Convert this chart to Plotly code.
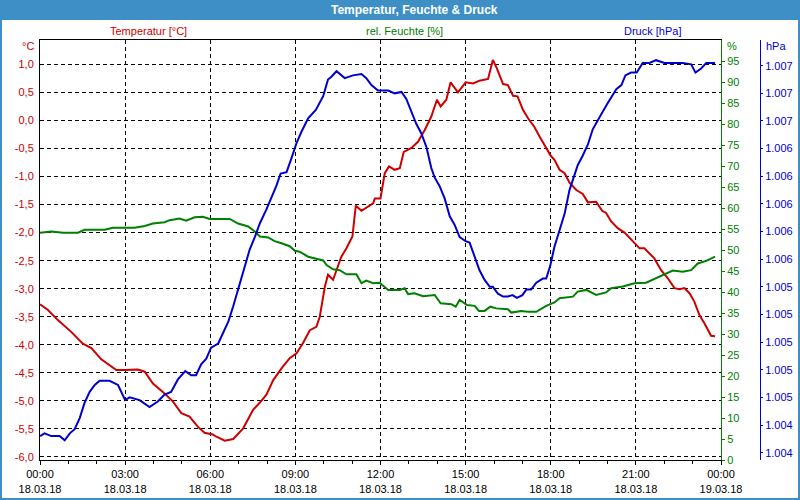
import plotly.graph_objects as go

# ---------------- data (hours since 18.03.18 00:00) ----------------
temp_h = [0.00, 0.28, 0.63, 1.10, 1.51, 1.81, 2.16, 2.45, 2.69, 2.98, 3.45, 3.69, 3.98, 4.33, 4.68,
          4.98, 5.27, 5.56, 5.80, 6.09, 6.22, 6.51, 6.81, 7.16, 7.51, 7.75, 7.98, 8.22, 8.51, 8.80,
          9.04, 9.27, 9.51, 9.74, 9.86, 10.04, 10.15, 10.33, 10.62, 10.80, 11.01, 11.13, 11.33, 11.74,
          11.80, 12.00, 12.15, 12.30, 12.50, 12.68, 12.82, 13.09, 13.32, 13.56, 13.79, 13.99, 14.12,
          14.32, 14.47, 14.73, 15.00, 15.26, 15.49, 15.79, 15.96, 16.10, 16.32, 16.49, 16.67, 16.83,
          17.02, 17.20, 17.43, 17.61, 17.84, 18.00, 18.13, 18.31, 18.49, 18.66, 18.90, 19.13, 19.31,
          19.60, 19.81, 19.95, 20.13, 20.36, 20.60, 20.83, 21.13, 21.30, 21.65, 21.89, 22.12, 22.36,
          22.54, 22.71, 22.89, 23.06, 23.24, 23.42, 23.65, 23.79]
temp_c = [-3.28, -3.38, -3.56, -3.77, -3.98, -4.06, -4.26, -4.36, -4.45, -4.45, -4.44, -4.48, -4.69,
          -4.84, -5.01, -5.22, -5.28, -5.46, -5.57, -5.60, -5.64, -5.71, -5.68, -5.49, -5.16, -5.03,
          -4.89, -4.63, -4.42, -4.24, -4.15, -3.97, -3.74, -3.68, -3.50, -2.96, -2.75, -2.84, -2.43,
          -2.28, -2.07, -1.52, -1.61, -1.48, -1.39, -1.39, -0.94, -0.82, -0.88, -0.85, -0.56, -0.49,
          -0.38, -0.17, 0.07, 0.37, 0.25, 0.37, 0.68, 0.50, 0.68, 0.66, 0.71, 0.74, 1.08, 0.93, 0.65,
          0.63, 0.44, 0.43, 0.19, 0.04, -0.12, -0.29, -0.49, -0.63, -0.70, -0.88, -0.94, -1.11, -1.24,
          -1.31, -1.46, -1.45, -1.61, -1.65, -1.80, -1.92, -2.00, -2.13, -2.28, -2.28, -2.46, -2.67,
          -2.81, -2.99, -3.01, -2.99, -3.08, -3.23, -3.47, -3.62, -3.84, -3.85]

hum_h = [0.00, 0.40, 0.81, 1.34, 1.57, 1.98, 2.28, 2.57, 3.33, 3.69, 3.98, 4.39, 4.57, 4.92, 5.15,
         5.45, 5.74, 5.98, 6.69, 6.98, 7.34, 7.57, 7.75, 8.04, 8.27, 8.51, 8.80, 8.98, 9.15, 9.45,
         9.74, 9.98, 10.10, 10.33, 10.56, 10.80, 11.15, 11.33, 11.50, 11.74, 11.97, 12.27, 12.68,
         12.85, 12.97, 13.20, 13.50, 13.91, 14.12, 14.50, 14.65, 14.79, 15.05, 15.32, 15.47, 15.67,
         15.87, 16.08, 16.49, 16.61, 16.96, 17.20, 17.49, 17.84, 18.13, 18.31, 18.78, 18.95, 19.25,
         19.60, 19.95, 20.13, 20.54, 20.95, 21.36, 21.71, 22.07, 22.30, 22.65, 22.95, 23.18, 23.48,
         23.79]
hum_pct = [54.1, 54.4, 54.1, 54.1, 54.8, 54.9, 54.8, 55.3, 55.3, 55.7, 56.3, 56.6, 57.1, 57.5, 57.0,
           57.8, 57.9, 57.4, 57.4, 56.3, 55.6, 54.4, 53.2, 53.0, 52.1, 51.6, 50.9, 49.8, 49.6, 48.4,
           47.9, 47.5, 46.4, 45.4, 45.2, 44.2, 44.2, 42.1, 42.7, 42.1, 42.2, 40.5, 40.5, 40.9, 39.5,
           39.7, 39.0, 39.3, 37.3, 37.1, 36.5, 38.1, 36.9, 36.7, 35.5, 35.5, 36.5, 36.1, 35.9, 35.1,
           35.5, 35.3, 35.3, 36.7, 37.5, 38.5, 38.9, 40.1, 40.5, 39.3, 39.9, 40.9, 41.3, 42.1, 42.2,
           43.3, 44.4, 45.1, 44.8, 45.2, 46.8, 47.4, 48.4]

pres_h = [0.00, 0.16, 0.40, 0.69, 0.87, 1.05, 1.22, 1.40, 1.57, 1.75, 1.93, 2.10, 2.45, 2.75, 3.00,
          3.16, 3.51, 3.86, 4.15, 4.39, 4.62, 4.86, 5.12, 5.33, 5.50, 5.68, 5.86, 6.03, 6.28, 6.46,
          6.64, 6.81, 6.98, 7.16, 7.28, 7.39, 7.57, 7.75, 7.98, 8.16, 8.33, 8.48, 8.69, 8.86, 9.04,
          9.21, 9.45, 9.72, 9.98, 10.15, 10.27, 10.45, 10.56, 10.74, 11.03, 11.33, 11.50, 11.68, 11.91,
          12.27, 12.50, 12.74, 12.91, 13.09, 13.26, 13.44, 13.62, 13.79, 13.91, 14.08, 14.26, 14.44,
          14.61, 14.79, 15.00, 15.14, 15.32, 15.49, 15.67, 15.85, 15.96, 16.14, 16.32, 16.49, 16.65,
          16.81, 17.00, 17.14, 17.31, 17.49, 17.72, 17.84, 17.98, 18.13, 18.31, 18.49, 18.66, 18.84,
          18.95, 19.13, 19.31, 19.48, 19.66, 19.84, 20.01, 20.19, 20.31, 20.49, 20.63, 20.83, 21.03,
          21.24, 21.48, 21.71, 22.01, 22.30, 22.65, 22.95, 23.10, 23.30, 23.48, 23.79]
pres_hpa = [1004.32, 1004.34, 1004.32, 1004.32, 1004.29, 1004.34, 1004.37, 1004.45, 1004.56, 1004.64,
            1004.69, 1004.72, 1004.72, 1004.69, 1004.58, 1004.60, 1004.58, 1004.53, 1004.57, 1004.62,
            1004.64, 1004.73, 1004.79, 1004.76, 1004.76, 1004.84, 1004.88, 1004.96, 1004.99, 1005.07,
            1005.15, 1005.26, 1005.38, 1005.50, 1005.60, 1005.67, 1005.76, 1005.86, 1005.96, 1006.05,
            1006.13, 1006.22, 1006.23, 1006.33, 1006.44, 1006.52, 1006.62, 1006.68, 1006.78, 1006.90,
            1006.92, 1006.96, 1006.94, 1006.91, 1006.93, 1006.94, 1006.91, 1006.86, 1006.82, 1006.82,
            1006.80, 1006.81, 1006.76, 1006.67, 1006.58, 1006.51, 1006.41, 1006.26, 1006.19, 1006.13,
            1006.04, 1005.91, 1005.85, 1005.76, 1005.73, 1005.72, 1005.61, 1005.52, 1005.45, 1005.40,
            1005.40, 1005.35, 1005.33, 1005.33, 1005.34, 1005.32, 1005.34, 1005.38, 1005.38, 1005.43,
            1005.46, 1005.46, 1005.55, 1005.69, 1005.81, 1005.93, 1006.10, 1006.22, 1006.28, 1006.35,
            1006.43, 1006.54, 1006.60, 1006.67, 1006.73, 1006.79, 1006.83, 1006.86, 1006.93, 1006.95,
            1006.95, 1007.02, 1007.02, 1007.04, 1007.02, 1007.02, 1007.02, 1007.01, 1006.95, 1006.98,
            1007.02, 1007.02]

x_tickvals = [0, 3, 6, 9, 12, 15, 18, 21, 24]
x_ticktext = ["00:00<br>18.03.18", "03:00<br>18.03.18", "06:00<br>18.03.18", "09:00<br>18.03.18",
              "12:00<br>18.03.18", "15:00<br>18.03.18", "18:00<br>18.03.18", "21:00<br>18.03.18",
              "00:00<br>19.03.18"]
t_tickvals = [1.0, 0.5, 0.0, -0.5, -1.0, -1.5, -2.0, -2.5, -3.0, -3.5, -4.0, -4.5, -5.0, -5.5, -6.0]
t_ticktext = ["1,0", "0,5", "0,0", "-0,5", "-1,0", "-1,5", "-2,0", "-2,5", "-3,0", "-3,5", "-4,0",
              "-4,5", "-5,0", "-5,5", "-6,0"]
h_tickvals = [95, 90, 85, 80, 75, 70, 65, 60, 55, 50, 45, 40, 35, 30, 25, 20, 15, 10, 5, 0]
p_tickvals = [1007.0, 1006.8, 1006.6, 1006.4, 1006.2, 1006.0, 1005.8, 1005.6, 1005.4, 1005.2,
              1005.0, 1004.8, 1004.6, 1004.4, 1004.2]
p_ticktext = ["1.007", "1.007", "1.007", "1.006", "1.006", "1.006", "1.006", "1.006", "1.005",
              "1.005", "1.005", "1.005", "1.005", "1.004", "1.004"]

RED = "#cc0000"
GREEN = "#008000"
BLUE = "#0000cc"
FRAME = "#3d8fc6"
FONT = "Liberation Sans, Arial, sans-serif"

# layout geometry helpers (pixel -> paper)
L, R, T, B = 40, 10, 40, 40
PW, PH = 800 - L - R, 500 - T - B


def px(x):
    return (x - L) / PW


def py(y):
    return (500 - B - y) / PH


fig = go.Figure()
fig.add_trace(go.Scatter(x=temp_h, y=temp_c, mode="lines", line=dict(color=RED, width=2),
                         yaxis="y", name="Temperatur"))
fig.add_trace(go.Scatter(x=hum_h, y=hum_pct, mode="lines", line=dict(color=GREEN, width=2),
                         yaxis="y2", name="rel. Feuchte"))
fig.add_trace(go.Scatter(x=pres_h, y=pres_hpa, mode="lines", line=dict(color=BLUE, width=2),
                         yaxis="y3", name="Druck"))

fig.update_layout(
    width=800, height=500,
    margin=dict(l=L, r=R, t=T, b=B, pad=0, autoexpand=False),
    paper_bgcolor="white", plot_bgcolor="white",
    showlegend=False,
    font=dict(family=FONT, size=11, color="black"),
    xaxis=dict(domain=[0, px(721)], range=[0, 24], tickvals=x_tickvals, ticktext=x_ticktext,
               automargin=False,
               showgrid=True, gridcolor="black", gridwidth=1, griddash="4px,3px",
               showline=True, linecolor="black", linewidth=1, mirror=True,
               ticks="outside", ticklen=4, tickcolor="black", zeroline=False,
               minor=dict(dtick=1, tick0=0, ticks="outside", ticklen=3, tickcolor="black", showgrid=False),
               tickfont=dict(size=11, color="black")),
    yaxis=dict(range=[-6.055, 1.435], tickvals=t_tickvals, ticktext=t_ticktext, automargin=False,
               showgrid=True, gridcolor="black", gridwidth=1, griddash="4px,3px",
               showline=True, linecolor="black", linewidth=1, zeroline=False,
               ticks="", ticklabelstandoff=3, tickfont=dict(size=11, color=RED)),
    yaxis2=dict(overlaying="y", side="right", anchor="x", range=[0, 100], tickvals=h_tickvals,
                automargin=False,
                showgrid=False, zeroline=False, showline=True, linecolor=GREEN, linewidth=1,
                ticks="outside", ticklen=3, tickcolor=GREEN, tickfont=dict(size=11, color=GREEN)),
    yaxis3=dict(overlaying="y", side="right", anchor="free", position=px(760),
                automargin=False,
                range=[1004.147, 1007.186], tickvals=p_tickvals, ticktext=p_ticktext,
                showgrid=False, zeroline=False, showline=True, linecolor=BLUE, linewidth=1,
                ticks="outside", ticklen=2, tickcolor=BLUE, tickfont=dict(size=11, color=BLUE)),
)

shapes = [
    dict(type="rect", xref="paper", yref="paper", x0=px(0), x1=px(800), y0=py(20), y1=py(0),
         fillcolor=FRAME, line=dict(width=0), layer="below"),
    dict(type="rect", xref="paper", yref="paper", x0=px(1), x1=px(799), y0=py(499), y1=py(1),
         fillcolor="rgba(0,0,0,0)", line=dict(color=FRAME, width=2)),
]
fig.update_layout(shapes=shapes)

annotations = [
    dict(text="<b>Temperatur, Feuchte &amp; Druck</b>", x=px(414), y=py(10), xref="paper", yref="paper",
         showarrow=False, xanchor="center", yanchor="middle", font=dict(size=12, color="white")),
    dict(text="Temperatur [°C]", x=px(148), y=py(31), xref="paper", yref="paper", showarrow=False,
         xanchor="center", yanchor="middle", font=dict(size=11, color=RED)),
    dict(text="rel. Feuchte [%]", x=px(404), y=py(31), xref="paper", yref="paper", showarrow=False,
         xanchor="center", yanchor="middle", font=dict(size=11, color=GREEN)),
    dict(text="Druck [hPa]", x=px(652), y=py(31), xref="paper", yref="paper", showarrow=False,
         xanchor="center", yanchor="middle", font=dict(size=11, color=BLUE)),
    dict(text="°C", x=px(36), y=py(46), xref="paper", yref="paper", showarrow=False,
         xanchor="right", yanchor="middle", font=dict(size=11, color=RED)),
    dict(text="%", x=px(725), y=py(46), xref="paper", yref="paper", showarrow=False,
         xanchor="left", yanchor="middle", font=dict(size=11, color=GREEN)),
    dict(text="hPa", x=px(764), y=py(46), xref="paper", yref="paper", showarrow=False,
         xanchor="left", yanchor="middle", font=dict(size=11, color=BLUE)),
]
fig.update_layout(annotations=annotations)

fig.write_html("out.html")
